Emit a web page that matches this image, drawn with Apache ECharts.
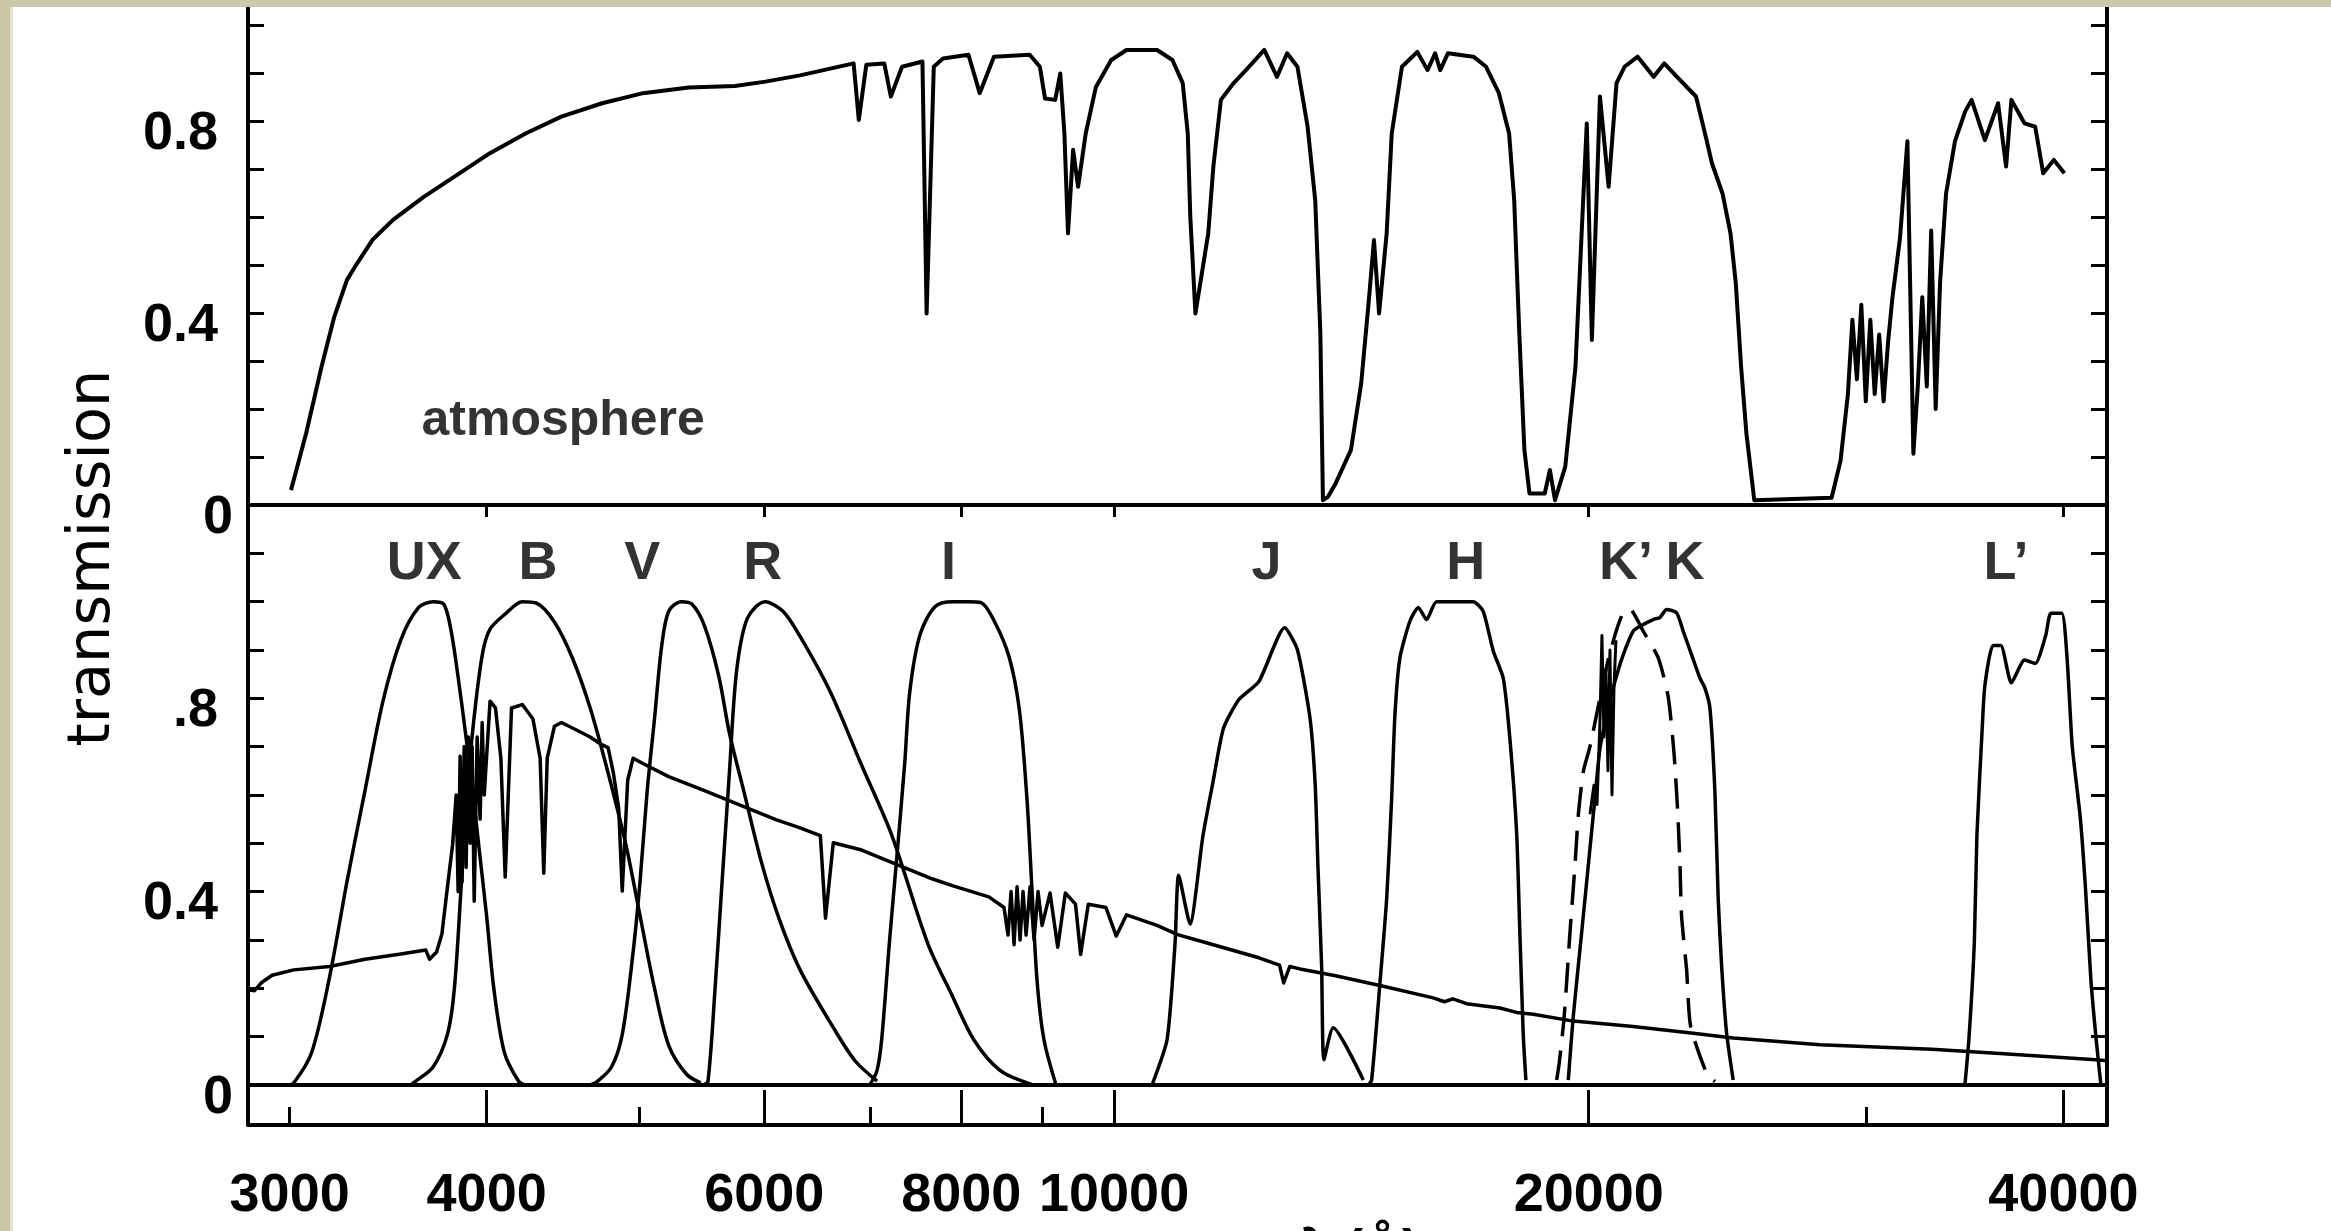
<!DOCTYPE html>
<html>
<head>
<meta charset="utf-8">
<script src="https://cdn.jsdelivr.net/npm/echarts@6/dist/echarts.min.js"></script>
<style>
html,body{margin:0;padding:0;background:#fff;}
#chart{width:2331px;height:1231px;}
</style>
</head>
<body>
<div id="chart"></div>
<script>
// ---- data: wavelength (Angstrom), transmission ----
const atmosphere = [[3006,.031],[3073,.149],[3143,.288],[3202,.392],[3262,.469],[3310,.503],[3385,.552],[3489,.594],[3649,.642],[3844,.691],[4019,.733],[4234,.774],[4461,.809],[4735,.837],[5026,.858],[5374,.870],[5748,.873],[6010,.882],[6322,.895],[6836,.920],[6888,.802],[6964,.917],[7149,.920],[7218,.851],[7337,.913],[7559,.924],[7605,.399],[7685,.913],[7789,.930],[8084,.938],[8218,.858],[8391,.934],[8840,.938],[8973,.913],[9040,.847],[9176,.844],[9244,.899],[9300,.774],[9349,.566],[9419,.740],[9488,.663],[9594,.774],[9738,.871],[9958,.927],[10183,.948],[10648,.948],[10889,.927],[11054,.879],[11136,.774],[11177,.601],[11261,.399],[11386,.497],[11474,.566],[11560,.705],[11688,.844],[11908,.879],[12177,.913],[12452,.948],[12685,.892],[12875,.941],[13070,.913],[13266,.788],[13414,.635],[13515,.358],[13566,.010],[13666,.017],[13820,.045],[14133,.115],[14345,.253],[14507,.427],[14616,.552],[14725,.399],[14889,.566],[15000,.774],[15225,.913],[15571,.944],[15805,.906],[15981,.941],[16100,.906],[16282,.941],[16900,.934],[17216,.913],[17541,.858],[17804,.774],[17937,.635],[18071,.358],[18206,.115],[18342,.024],[18756,.024],[18897,.073],[19038,.010],[19326,.080],[19616,.288],[19838,.635],[19943,.795],[20092,.344],[20330,.851],[20589,.663],[20828,.879],[21073,.913],[21482,.934],[21988,.892],[22330,.920],[22855,.885],[23392,.851],[23757,.760],[23942,.712],[24315,.649],[24600,.566],[24791,.462],[24984,.288],[25178,.149],[25470,.010],[28514,.015],[28888,.092],[29201,.231],[29393,.386],[29587,.262],[29778,.417],[29974,.216],[30172,.386],[30366,.231],[30566,.355],[30763,.216],[30966,.340],[31165,.433],[31509,.556],[31851,.758],[32131,.107],[32338,.247],[32551,.433],[32766,.247],[32977,.572],[33194,.200],[33408,.464],[33702,.649],[34143,.758],[34657,.820],[34982,.844],[35668,.760],[36362,.837],[36789,.705],[37075,.844],[37797,.795],[38387,.788],[38839,.691],[39445,.719],[40058,.691]];

const filterUX = [[2990,0],[3018,.004],[3098,.067],[3180,.223],[3263,.423],[3349,.609],[3438,.794],[3529,.921],[3622,.988],[3699,1.0],[3757,.995],[3796,.943],[3836,.846],[3876,.735],[3917,.616],[3958,.483],[4000,.349],[4042,.200],[4105,.067],[4192,.007],[4230,0]];
const filterB = [[3580,0],[3604,.007],[3699,.037],[3777,.104],[3816,.200],[3856,.423],[3897,.646],[3938,.794],[3979,.898],[4020,.943],[4105,.973],[4214,1.0],[4302,.997],[4416,.958],[4533,.884],[4653,.780],[4776,.646],[4902,.497],[5005,.349],[5111,.200],[5218,.082],[5356,.022],[5469,.004]];
const filterV = [[4650,0],[4701,.007],[4800,.037],[4876,.104],[4954,.275],[5005,.423],[5057,.609],[5111,.757],[5164,.906],[5218,.980],[5314,1.0],[5398,.995],[5498,.950],[5614,.846],[5702,.728],[5822,.609],[5976,.460],[6134,.342],[6322,.238],[6624,.123],[6850,.05],[7074,.008]];
const filterR = [[5490,0],[5526,.007],[5584,.200],[5642,.423],[5702,.646],[5761,.854],[5852,.965],[6007,1.0],[6166,.980],[6322,.928],[6610,.812],[6911,.664],[7229,.516],[7617,.293],[7904,.181],[8145,.094],[8466,.03],[8883,0]];
const filterI = [[7000,0],[7074,.03],[7122,.094],[7202,.293],[7284,.478],[7365,.664],[7420,.813],[7531,.931],[7701,.990],[7904,1.0],[8080,1.0],[8235,.998],[8391,.961],[8578,.886],[8709,.775],[8806,.59],[8870,.404],[8935,.218],[9026,.094],[9187,0]];
const filterJ = [[10570,0],[10805,.094],[10931,.293],[10988,.434],[11173,.333],[11386,.516],[11554,.627],[11732,.738],[11997,.797],[12356,.835],[12828,.946],[13068,.901],[13311,.76],[13414,.62],[13468,.45],[13540,.246],[13586,.052],[13772,.118],[14389,.01]];
const filterH = [[14500,0],[14566,.01],[14744,.211],[14889,.385],[14998,.593],[15070,.766],[15180,.884],[15404,.960],[15592,.988],[15784,.963],[16016,1.0],[16894,1.0],[17143,.98],[17396,.898],[17651,.842],[17824,.717],[18000,.523],[18086,.315],[18174,.107],[18246,.01]];
const filterK = [[19411,.01],[19553,.142],[19794,.315],[20035,.489],[20182,.593],[20330,.696],[20577,.78],[20780,.835],[21032,.890],[21342,.939],[21552,.949],[21974,.963],[22190,.967],[22408,.984],[22738,.977],[22958,.939],[23242,.890],[23525,.842],[23698,.821],[23872,.780],[24046,.606],[24162,.385],[24283,.246],[24460,.107],[24697,.01]];
const filterKprime = [[19085,.01],[19156,.045],[19296,.142],[19459,.315],[19602,.454],[19697,.558],[19841,.648],[20035,.70],[20330,.80],[20577,.88],[20831,.942],[21032,.977],[21239,.984],[21656,.939],[22135,.884],[22461,.803],[22649,.689],[22771,.569],[22848,.459],[22905,.348],[23073,.238],[23208,.121],[23757,.024],[24046,.007]];
const filterKprimeEdge = [[20035,.56],[20153,.62],[20242,.58],[20330,.75],[20389,.93],[20449,.72],[20508,.86],[20569,.65],[20629,.90],[20690,.60],[20750,.82],[20810,.92]];
const filterLprime = [[34642,0],[34844,.094],[35120,.293],[35254,.516],[35528,.738],[35668,.827],[36087,.909],[36505,.909],[37075,.832],[37797,.879],[38387,.872],[38987,.931],[39278,.976],[39901,.976],[40210,.886],[40522,.70],[40999,.553],[41317,.404],[41638,.218],[41961,.094],[42250,0]];
const stellar = [[2823,.197],[2850,.195],[2880,.212],[2924,.227],[3018,.238],[3180,.245],[3349,.26],[3529,.271],[3660,.279],[3680,.26],[3718,.275],[3747,.312],[3777,.408],[3806,.497],[3826,.60],[3837,.40],[3848,.68],[3859,.42],[3871,.70],[3882,.45],[3894,.72],[3905,.50],[3916,.70],[3928,.38],[3945,.72],[3962,.55],[3974,.75],[3986,.60],[4020,.794],[4052,.78],[4084,.676],[4110,.43],[4148,.78],[4214,.787],[4280,.757],[4325,.676],[4348,.438],[4370,.676],[4416,.742],[4462,.75],[4557,.735],[4653,.72],[4726,.705],[4776,.698],[4813,.646],[4851,.572],[4876,.401],[4915,.631],[4954,.676],[5032,.664],[5218,.638],[5498,.609],[5792,.579],[6102,.549],[6322,.532],[6512,.516],[6561,.345],[6636,.501],[6917,.486],[7284,.456],[7673,.426],[7904,.412],[8329,.389],[8515,.367],[8565,.31],[8603,.40],[8641,.29],[8679,.41],[8717,.30],[8755,.40],[8794,.31],[8845,.41],[8897,.30],[8949,.40],[9002,.33],[9107,.397],[9210,.285],[9313,.397],[9452,.374],[9523,.27],[9630,.374],[9882,.367],[10032,.308],[10183,.352],[10647,.33],[10972,.311],[11470,.293],[12356,.263],[12733,.248],[12810,.211],[12924,.245],[13118,.240],[13820,.226],[14816,.204],[15936,.18],[16200,.172],[16400,.178],[16733,.168],[17566,.159],[18000,.150],[18442,.146],[19553,.132],[21342,.121],[23297,.107],[24697,.097],[28039,.083],[33011,.074],[36458,.065],[41942,.052],[42630,.05]];

const bandNames = ['UX','B','V','R','I','J','H','K\u2019','K','L\u2019'];
const bandLabelLambda = [3652,4312,5021,5986,7852,12494,16711,21116,23016,36778];
const bandLabelLevel = 1.078;
const atmLabel = ['atmosphere', 4473, 0.175];

const xLabelValues = [3000,4000,6000,8000,10000,20000,40000];
const xMajorTicks = [4000,6000,8000,10000,20000,40000];
const xMinorTicks = [3000,5000,7000,9000,30000];
const yTicks = [0,0.1,0.2,0.3,0.4,0.5,0.6,0.7,0.8,0.9,1.0];
const yTicksLower = [0,0.1,0.2,0.3,0.4,0.5,0.6,0.7,0.8,0.9,1.0,1.1];
const yLabelValues = [0,0.4,0.8];
const yLabelsUpper = ['0','0.4','0.8'];
const yLabelsLower = ['0','0.4','.8'];

const X_MIN = Math.log10(2823), X_MAX = Math.log10(42630);
const lg = v => Math.log10(v);
const toXY = arr => arr.map(p => [lg(p[0]), p[1]]);

const FONT = "'Liberation Sans', Arial, Helvetica, sans-serif";
const NB = '\u00a0';

function yLabelFmt(labels){
  return function(v){
    for (let i=0;i<yLabelValues.length;i++){
      if (Math.abs(v-yLabelValues[i])<1e-6) return labels[i]==='0' ? '0' : labels[i]+NB;
    }
    return '';
  };
}

function baseX(grid){
  return {type:'value', gridIndex:grid, min:X_MIN, max:X_MAX, splitLine:{show:false}, axisLabel:{show:false}, axisTick:{show:false}, axisLine:{show:false}};
}

const xAxes = [
  Object.assign(baseX(0), {position:'bottom', axisLine:{show:true, onZero:true, lineStyle:{color:'#000', width:4}}}),
  Object.assign(baseX(0), {position:'top', axisLine:{show:true, lineStyle:{color:'#000', width:4}},
      axisTick:{show:true, inside:true, length:12, customValues:xMajorTicks.map(lg), lineStyle:{color:'#000', width:3}}}),
  Object.assign(baseX(1), {position:'bottom', axisLine:{show:true, onZero:true, lineStyle:{color:'#000', width:4}}}),
  Object.assign(baseX(1), {position:'bottom', axisLine:{show:true, onZero:false, lineStyle:{color:'#000', width:4}},
      axisTick:{show:true, inside:true, length:35, customValues:xMajorTicks.map(lg), lineStyle:{color:'#000', width:3}},
      axisLabel:{show:true, customValues:xLabelValues.map(lg), margin:44, color:'#000', fontSize:54, fontWeight:'bold', fontFamily:FONT,
        formatter:v => String(Math.round(Math.pow(10,v)))}}),
  Object.assign(baseX(1), {position:'bottom', axisLine:{show:false, onZero:false},
      axisTick:{show:true, inside:true, length:18, customValues:xMinorTicks.map(lg), lineStyle:{color:'#000', width:3}}})
];

function yAx(grid, pos, min, max, ticks, labels){
  const a = {type:'value', gridIndex:grid, position:pos, min:min, max:max, splitLine:{show:false},
    axisLine:{show:true, onZero:false, lineStyle:{color:'#000', width:4}},
    axisTick:{show:true, inside:true, length:16, customValues:ticks, lineStyle:{color:'#000', width:3}},
    axisLabel:{show:false}};
  if (labels){
    a.axisLabel = {show:true, customValues:yLabelValues, margin:15, color:'#000', fontSize:54, fontWeight:'bold', fontFamily:FONT,
      verticalAlign:'top', lineHeight:26, formatter:yLabelFmt(labels)};
  }
  return a;
}

const yAxes = [
  yAx(0,'left',0,1.05,yTicks,yLabelsUpper),
  yAx(0,'right',0,1.05,yTicks,null),
  yAx(1,'left',-0.083,1.2,yTicksLower,yLabelsLower),
  yAx(1,'right',-0.083,1.2,yTicksLower,null)
];

function curve(name, arr, panel, opt){
  opt = opt || {};
  return {type:'line', name:name, xAxisIndex: panel===0?0:2, yAxisIndex: panel===0?0:2,
    data: toXY(arr), symbol:'none', showSymbol:false, smooth: opt.smooth||false,
    lineStyle:{color:'#000', width: opt.width||3.5, type: opt.type||'solid', join:'round'},
    silent:true, animation:false, z: 3};
}

const series = [
  curve('atmosphere', atmosphere, 0, {width:4}),
  curve('UX', filterUX, 1, {smooth:0.3}),
  curve('B', filterB, 1, {smooth:0.3}),
  curve('V', filterV, 1, {smooth:0.3}),
  curve('R', filterR, 1, {smooth:0.3}),
  curve('I', filterI, 1, {smooth:0.3}),
  curve('J', filterJ, 1, {smooth:0.2}),
  curve('H', filterH, 1, {smooth:0.2}),
  curve('K', filterK, 1, {smooth:0.2}),
  curve('K\u2019', filterKprime, 1, {smooth:0.2, type:[30,14]}),
  curve('K\u2019 edge', filterKprimeEdge, 1, {width:3}),
  curve('L\u2019', filterLprime, 1, {smooth:0.2}),
  curve('star', stellar, 1, {width:3.5}),
  {type:'scatter', xAxisIndex:2, yAxisIndex:2, symbolSize:0, silent:true, animation:false,
    data: bandNames.map((n,i)=>({name:n, value:[lg(bandLabelLambda[i]), bandLabelLevel]})),
    label:{show:true, position:'inside', formatter:p=>p.name, color:'#000', fontSize:54, fontWeight:'bold', fontFamily:FONT}},
  {type:'scatter', xAxisIndex:0, yAxisIndex:0, symbolSize:0, silent:true, animation:false,
    data:[{name:atmLabel[0], value:[lg(atmLabel[1]), atmLabel[2]]}],
    label:{show:true, position:'inside', formatter:p=>p.name, color:'#000', fontSize:50, fontWeight:'bold', fontFamily:FONT}}
];

const chart = echarts.init(document.getElementById('chart'), null, {renderer:'canvas'});
chart.setOption({
  backgroundColor:'#ffffff',
  animation:false,
  grid:[
    {left:248, top:1, width:1859, height:504},
    {left:248, top:505, width:1859, height:620}
  ],
  xAxis: xAxes,
  yAxis: yAxes,
  series: series,
  graphic:[
    {type:'text', x:94, y:558, rotation:Math.PI/2, z:100,
      style:{text:'transmission', font:"59px 'DejaVu Sans', sans-serif", fill:'#000', align:'center', verticalAlign:'middle'}},
    {type:'text', x:1300, y:1225, z:100,
      style:{text:'\u03bb (\u00c5)', font:"bold 54px 'Liberation Sans', Arial, sans-serif", fill:'#000', align:'left', verticalAlign:'top'}},
    {type:'rect', z:200, shape:{x:0, y:0, width:2331, height:7}, style:{fill:'#cbc9a8'}},
    {type:'rect', z:200, shape:{x:0, y:0, width:10, height:1231}, style:{fill:'#c9c7a5'}},
    {type:'rect', z:200, shape:{x:10, y:7, width:3, height:1224}, style:{fill:'#e3e2cf'}}
  ]
});
</script>
</body>
</html>
